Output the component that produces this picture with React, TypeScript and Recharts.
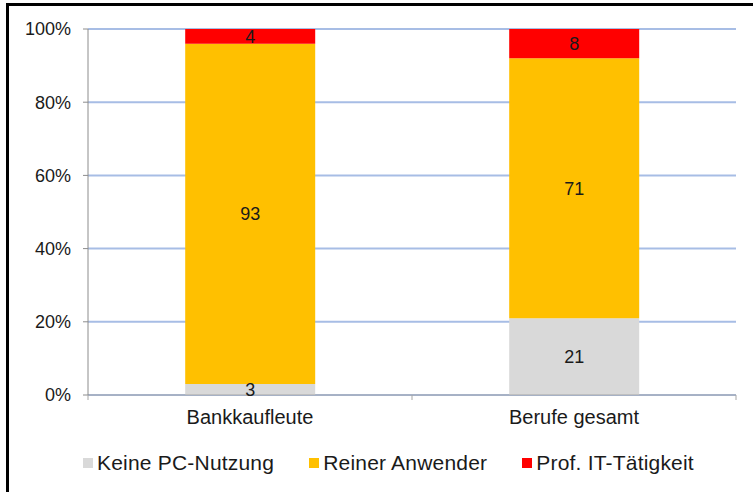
import { BarChart, Bar, XAxis, YAxis, CartesianGrid, Legend, LabelList } from 'recharts';

const categories = ['Bankkaufleute', 'Berufe gesamt'];
const keinePC = [3, 21];
const reinerAnwender = [93, 71];
const profIT = [4, 8];
const yTicks = [0, 20, 40, 60, 80, 100];

const seriesNames = ['Keine PC-Nutzung', 'Reiner Anwender', 'Prof. IT-Tätigkeit'];
const seriesColors = ['#d9d9d9', '#ffc000', '#ff0000'];

const data = categories.map((name, i) => ({
  name,
  keine: keinePC[i],
  anwender: reinerAnwender[i],
  prof: profIT[i]
}));

const FONT = '"Liberation Sans", Arial, sans-serif';

const CategoryTick = (props: any) => {
  const { x, y, payload, index, width } = props;
  const half = payload?.offset || (width / categories.length) / 2;
  return (
    <g>
      <line x1={x - half} y1={y} x2={x - half} y2={y + 5} stroke="#a6a6a6" />
      {index === categories.length - 1 && (
        <line x1={x + half} y1={y} x2={x + half} y2={y + 5} stroke="#a6a6a6" />
      )}
      <text x={x} y={y + 29} textAnchor="middle" fontSize={20} fill="#1a1a1a" fontFamily={FONT}>
        {payload.value}
      </text>
    </g>
  );
};

const renderLegend = (props: any) => {
  // keep the series order of the original (Recharts sorts by name otherwise)
  const items = [...(props.payload || [])].sort(
    (a: any, b: any) => seriesNames.indexOf(a.value) - seriesNames.indexOf(b.value)
  );
  return (
    <div style={{ display: 'flex', paddingLeft: 83, gap: 35, fontFamily: FONT, fontSize: 21, letterSpacing: 0.2, color: '#1a1a1a', lineHeight: '26px' }}>
      {items.map((it: any) => (
        <span key={it.value} style={{ display: 'flex', alignItems: 'center' }}>
          <span style={{ width: 10, height: 10, background: it.color, marginRight: 4, display: 'inline-block' }} />
          {it.value}
        </span>
      ))}
    </div>
  );
};

export default function App() {
  return (
    <div style={{ position: 'absolute', left: 0, top: 0, width: 753, height: 492, overflow: 'hidden', background: '#fff' }}>
      <div style={{ position: 'absolute', left: 6, top: 3, width: 800, height: 600, borderTop: '3px solid #000', borderLeft: '3px solid #000' }} />
      <div style={{ position: 'absolute', left: 0, top: 0 }}>
        <BarChart
          width={753}
          height={492}
          data={data}
          margin={{ top: 29, right: 17, left: 0, bottom: 31 }}
          barCategoryGap="30%"
        >
          <CartesianGrid vertical={false} stroke="#a7bde5" strokeWidth={2} />
          <XAxis
            dataKey="name"
            height={40}
            tickLine={false}
            tickSize={0}
            tickMargin={0}
            stroke="#a6a6a6"
            tick={<CategoryTick />}
            interval={0}
          />
          <YAxis
            width={88}
            domain={[0, 100]}
            ticks={yTicks}
            tickFormatter={(v: number) => `${v}%`}
            tickSize={5}
            tickMargin={12}
            stroke="#8c8c8c"
            tick={{ fontSize: 18, fill: '#1a1a1a', fontFamily: FONT }}
          />
          <Legend
            verticalAlign="bottom"
            content={renderLegend}
            wrapperStyle={{ top: 450, left: 0, width: 753, height: 26 }}
          />
          <Bar dataKey="keine" name={seriesNames[0]} stackId="a" fill={seriesColors[0]} isAnimationActive={false}>
            <LabelList dataKey="keine" position="center" fill="#1a1a1a" fontSize={18} fontFamily={FONT} />
          </Bar>
          <Bar dataKey="anwender" name={seriesNames[1]} stackId="a" fill={seriesColors[1]} isAnimationActive={false}>
            <LabelList dataKey="anwender" position="center" fill="#1a1a1a" fontSize={18} fontFamily={FONT} />
          </Bar>
          <Bar dataKey="prof" name={seriesNames[2]} stackId="a" fill={seriesColors[2]} isAnimationActive={false}>
            <LabelList dataKey="prof" position="center" fill="#1a1a1a" fontSize={18} fontFamily={FONT} />
          </Bar>
        </BarChart>
      </div>
    </div>
  );
}
